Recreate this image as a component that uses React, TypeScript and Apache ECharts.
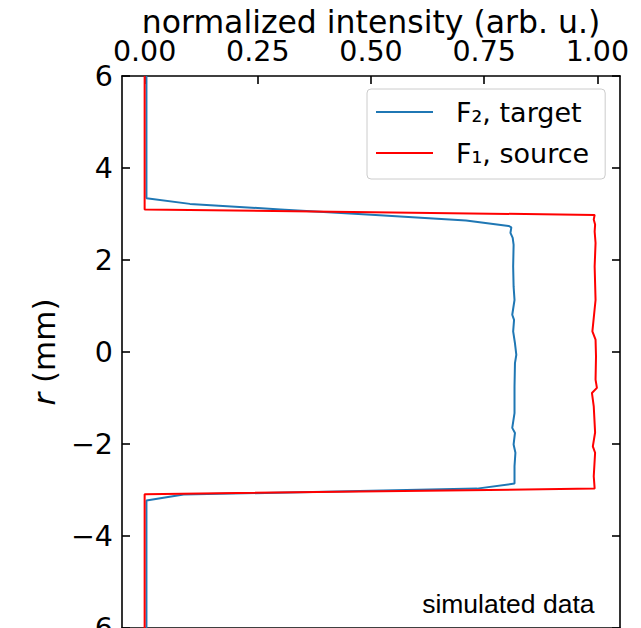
import React, { useEffect, useRef } from "react";
import * as echarts from "echarts";

// r (mm) vs normalized intensity
// F2, target (blue): [intensity, r]
const targetIntensity = [0.004, 0.004, 0.1, 0.3, 0.51, 0.71, 0.804, 0.81, 0.808, 0.813, 0.815, 0.814, 0.815, 0.817, 0.812, 0.816, 0.814, 0.818, 0.821, 0.818, 0.817, 0.817, 0.812, 0.818, 0.815, 0.819, 0.817, 0.817, 0.734, 0.086, 0.004, 0.004];
const targetR = [6.0, 3.34, 3.22, 3.1, 2.98, 2.86, 2.74, 2.71, 2.59, 2.48, 2.33, 1.86, 1.42, 1.13, 0.81, 0.7, 0.45, 0.19, -0.06, -0.24, -0.75, -1.33, -1.65, -1.76, -2.01, -2.19, -2.48, -2.86, -2.97, -3.1, -3.23, -6.0];

// F1, source (red)
const sourceIntensity = [0.0, 0.0, 0.994, 0.992, 0.995, 0.994, 0.996, 0.994, 0.996, 0.989, 0.996, 0.997, 0.996, 0.999, 0.988, 0.992, 0.995, 0.99, 0.995, 0.992, 0.994, 0.0, 0.0];
const sourceR = [6.0, 3.1, 2.98, 2.88, 2.77, 2.62, 2.37, 1.86, 1.13, 0.45, 0.27, -0.1, -0.6, -0.78, -0.89, -1.18, -1.75, -2.05, -2.19, -2.7, -2.97, -3.09, -6.0];

const xTicks = [0, 0.25, 0.5, 0.75, 1.0];
const seriesNames = ["F\u2082, target", "F\u2081, source"];

const FONT = "DejaVu Sans";

export default function App() {
  const ref = useRef<HTMLDivElement>(null);
  useEffect(() => {
    if (!ref.current) return;
    const chart = echarts.init(ref.current, null, { renderer: "svg" });
    const blue = targetIntensity.map((v, i) => [v, targetR[i]]);
    const red = sourceIntensity.map((v, i) => [v, sourceR[i]]);
    const axisLine = { show: true, onZero: false, lineStyle: { color: "#000", width: 1.6 } };
    const tickStyle = { color: "#000", width: 1.6 };
    chart.setOption({
      animation: false,
      grid: { left: 122, right: 21, top: 76, bottom: 0, containLabel: false, outerBoundsMode: "none" },
      xAxis: [
        {
          type: "value",
          position: "top",
          min: -0.05,
          max: 1.05,
          name: "normalized intensity (arb. u.)",
          nameLocation: "middle",
          nameGap: 41,
          nameMoveOverlap: false,
          nameTextStyle: { fontFamily: FONT, fontSize: 31.5, lineHeight: 26, color: "#000" },
          axisLine,
          axisTick: { show: true, inside: true, length: 8, customValues: xTicks, lineStyle: tickStyle },
          axisLabel: {
            show: true,
            customValues: xTicks,
            formatter: (v: number) => v.toFixed(2),
            fontFamily: FONT,
            fontSize: 28.5,
            color: "#000",
            margin: 10,
          },
          splitLine: { show: false },
        },
        {
          type: "value",
          position: "bottom",
          min: -0.05,
          max: 1.05,
          axisLine,
          axisTick: { show: false },
          axisLabel: { show: false },
          splitLine: { show: false },
        },
      ],
      yAxis: [
        {
          type: "value",
          position: "left",
          min: -6,
          max: 6,
          interval: 2,
          name: "{i|r} (mm)",
          nameLocation: "middle",
          nameGap: 63,
          nameRotate: 90,
          nameTextStyle: {
            fontFamily: FONT,
            fontSize: 31,
            color: "#000",
            rich: { i: { fontFamily: FONT, fontSize: 31, fontStyle: "italic", color: "#000" } },
          },
          axisLine,
          axisTick: { show: true, inside: true, length: 8, lineStyle: tickStyle },
          axisLabel: {
            formatter: (v: number) => (v < 0 ? "\u2212" + Math.abs(v) : String(v)),
            fontFamily: FONT,
            fontSize: 28.5,
            color: "#000",
            margin: 9,
          },
          splitLine: { show: false },
        },
        {
          type: "value",
          position: "right",
          min: -6,
          max: 6,
          interval: 2,
          axisLine,
          axisTick: { show: true, inside: true, length: 8, lineStyle: tickStyle },
          axisLabel: { show: false },
          splitLine: { show: false },
        },
      ],
      legend: {
        orient: "vertical",
        left: 367,
        top: 89,
        icon: "rect",
        itemWidth: 57,
        itemHeight: 2,
        itemGap: 11,
        padding: [8, 16, 11, 9],
        backgroundColor: "rgba(255,255,255,0.8)",
        borderColor: "#cccccc",
        borderWidth: 1,
        borderRadius: 4,
        textStyle: { fontFamily: FONT, fontSize: 27, color: "#000", lineHeight: 30, padding: [0, 0, 0, 18] },
        data: seriesNames,
      },
      series: [
        {
          name: seriesNames[0],
          type: "line",
          data: blue,
          symbol: "none",
          showSymbol: false,
          lineStyle: { color: "#1f77b4", width: 2 },
          itemStyle: { color: "#1f77b4" },
          z: 2,
        },
        {
          name: seriesNames[1],
          type: "line",
          data: red,
          symbol: "none",
          showSymbol: false,
          lineStyle: { color: "#ff0000", width: 2 },
          itemStyle: { color: "#ff0000" },
          z: 3,
        },
      ],
      graphic: [
        {
          type: "text",
          x: 594.5,
          y: 604,
          style: {
            text: "simulated data",
            align: "right",
            verticalAlign: "middle",
            fontFamily: "Liberation Sans",
            fontSize: 26.5,
            fill: "#000",
          },
        },
      ],
    });
    return () => chart.dispose();
  }, []);
  return <div ref={ref} style={{ position: "absolute", left: 0, top: 0, width: 641, height: 628 }} />;
}
